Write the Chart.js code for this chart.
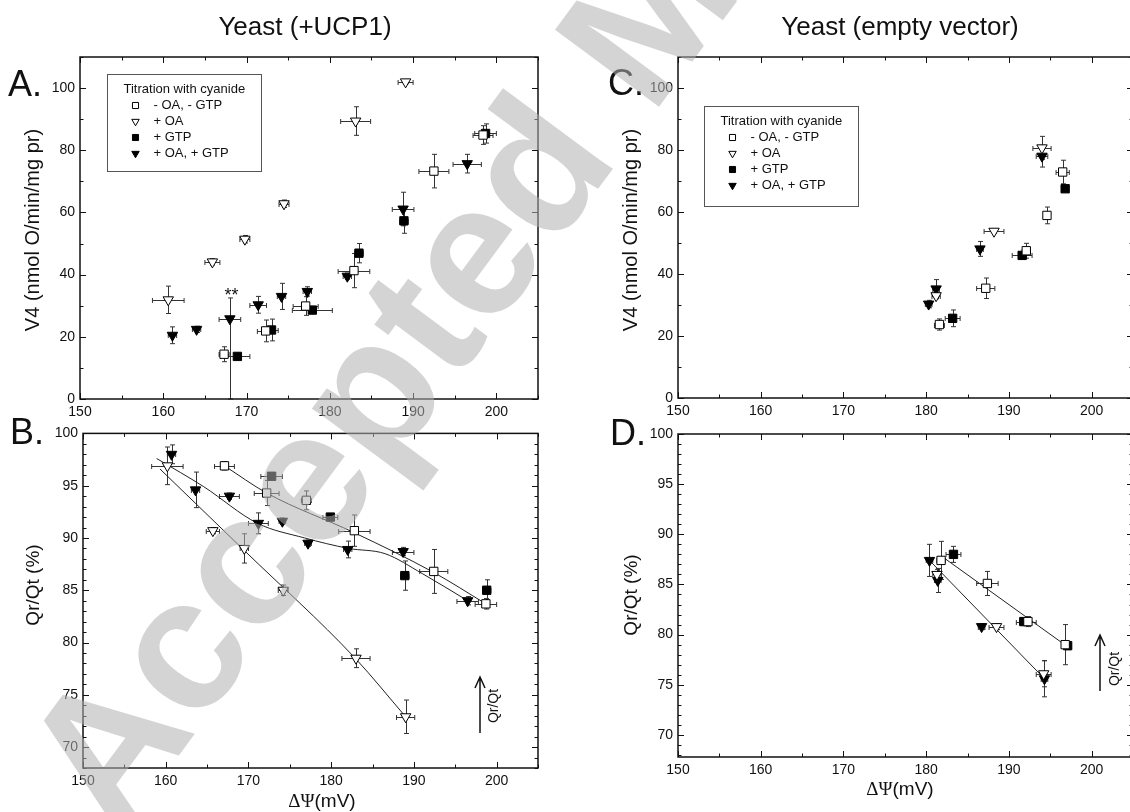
<!DOCTYPE html>
<html>
<head>
<meta charset="utf-8">
<script src="https://cdn.jsdelivr.net/npm/chart.js@4.4.0/dist/chart.umd.min.js"></script>
<style>
html, body { margin:0; padding:0; background:#fff; width:1130px; height:812px; overflow:hidden; position:relative; }
canvas { position:absolute; }
svg { position:absolute; left:0; top:0; pointer-events:none; }
</style>
</head>
<body>
<canvas id="cA" style="left:0;top:30px;width:560px;height:400px" width="560" height="400"></canvas>
<canvas id="cB" style="left:0;top:420px;width:560px;height:392px" width="560" height="392"></canvas>
<canvas id="cC" style="left:570px;top:30px;width:570px;height:400px" width="570" height="400"></canvas>
<canvas id="cD" style="left:570px;top:420px;width:570px;height:392px" width="570" height="392"></canvas>

<svg width="1130" height="812" font-family="'Liberation Sans', Arial, sans-serif" fill="#111">
  <text x="305" y="35" font-size="26" text-anchor="middle">Yeast (+UCP1)</text>
  <text x="900" y="35" font-size="26" text-anchor="middle">Yeast (empty vector)</text>
  <text x="8" y="96" font-size="36">A.</text>
  <text x="10" y="444" font-size="36">B.</text>
  <text x="608" y="95" font-size="36">C.</text>
  <text x="610" y="445" font-size="36">D.</text>
  <text transform="translate(32,230) rotate(-90)" font-size="20" text-anchor="middle" dominant-baseline="central">V4 (nmol O/min/mg pr)</text>
  <text transform="translate(630,230) rotate(-90)" font-size="20" text-anchor="middle" dominant-baseline="central">V4 (nmol O/min/mg pr)</text>
  <text transform="translate(32,585) rotate(-90)" font-size="19" text-anchor="middle" dominant-baseline="central">Qr/Qt (%)</text>
  <text transform="translate(630,595) rotate(-90)" font-size="19" text-anchor="middle" dominant-baseline="central">Qr/Qt (%)</text>
  <text x="322" y="807" font-size="19" text-anchor="middle"><tspan font-family="'Liberation Serif', serif">ΔΨ</tspan>(mV)</text>
  <text x="900" y="795" font-size="19" text-anchor="middle"><tspan font-family="'Liberation Serif', serif">ΔΨ</tspan>(mV)</text>
  <g stroke="#111" stroke-width="1.5" fill="none">
    <path d="M480,733 L480,678 M475,688 L480,677 L485,688"/>
    <path d="M1100,691 L1100,636 M1095,646 L1100,635 L1105,646"/>
  </g>
  <text transform="translate(493,706) rotate(-90)" font-size="14" text-anchor="middle" dominant-baseline="central">Qr/Qt</text>
  <text transform="translate(1114,669) rotate(-90)" font-size="14" text-anchor="middle" dominant-baseline="central">Qr/Qt</text>
</svg>

<svg width="1130" height="812">
  <text x="117" y="839" transform="rotate(-53.5 117 839)" font-family="'Liberation Sans', Arial, sans-serif" font-weight="bold" font-size="188" fill="rgb(176,176,176)" fill-opacity="0.55">Accepted Manuscript</text>
</svg>

<script>
// axis ticks and labels
var xTicks = [150, 160, 170, 180, 190, 200];
var v4Ticks = [0, 20, 40, 60, 80, 100];
var qTicks = [70, 75, 80, 85, 90, 95, 100];
var legendTitle = 'Titration with cyanide';
var seriesNames = ['- OA, - GTP', '+ OA', '+ GTP', '+ OA, + GTP'];

// points: [dPsi mV, value, x error, y error (, lower y error)]
// panel A, V4, yeast +UCP1
var A_ctrl = [[167.3,14.4,0.6,2.4],[172.3,21.9,1.0,3.5],[177.1,29.9,1.5,3.0],[182.9,41.3,1.9,5.5],[192.5,73.3,1.8,5.4],[198.4,84.9,1.2,3.0]];
var A_oa   = [[160.6,31.9,1.9,4.4],[165.9,44.1,0.9,1.0],[169.8,51.4,0.6,1.2],[174.5,62.8,0.6,1.2],[183.1,89.4,1.8,4.6],[189.1,102.0,0.9,0.6]];
var A_gtp  = [[168.9,13.7,1.5,1.0],[173.0,22.2,0.8,3.5],[177.9,28.6,2.4,1.0],[183.5,46.9,0.5,3.1],[188.9,57.3,0.5,4.0],[198.7,85.4,1.3,3.1]];
var A_both = [[161.1,20.5,0.5,2.7],[164.0,22.4,0.5,1.0],[168.0,25.8,1.3,6.7,25.8],[171.4,30.3,1.0,2.7],[174.2,33.0,0.5,4.2],[177.3,34.6,0.5,1.5],[182.1,39.5,0.5,1.0],[188.8,61.1,1.3,5.4],[196.5,75.7,1.7,3.0]];
var A_notes = [{x: 168.2, y: 31.4, text: '**'}];

// panel B, Qr/Qt, yeast +UCP1
var B_ctrl = [[167.1,96.9,1.2,0.4],[172.2,94.3,1.5,1.2],[177.0,93.6,0.6,0.9],[182.8,90.7,1.9,1.5],[192.4,86.8,1.7,2.1],[198.7,83.7,1.3,0.5]];
var B_oa   = [[160.2,96.9,1.9,1.8],[165.7,90.7,0.8,0.3],[169.5,89.0,0.5,1.4],[174.2,85.0,0.6,0.5],[183.0,78.5,1.7,0.9],[189.0,72.9,1.1,1.6]];
var B_gtp  = [[172.8,95.9,1.3,0.3],[179.9,92.0,0.9,0.3],[188.9,86.4,0.5,1.4],[198.8,85.0,0.5,1.0]];
var B_both = [[160.7,98.0,0.5,0.9],[163.6,94.6,0.5,1.7],[167.7,94.0,1.2,0.3],[171.2,91.4,1.2,1.0],[174.1,91.6,0.4,0.3],[177.2,89.5,0.4,0.3],[182.0,88.9,0.5,0.8],[188.7,88.7,1.3,0.4],[196.5,84.0,1.3,0.4]];
var B_fitCtrl = [[167.1,96.9],[172.2,94.3],[182.8,90.5],[192.4,86.7],[198.7,83.7]];
var B_fitOa   = [[159.3,96.6],[169.5,88.8],[182.9,78.5],[189.0,72.9]];
var B_fitBoth = [[158.9,97.6],[164.6,94.9],[171.1,91.4],[176.8,90.0],[182.1,89.0],[186.5,88.5],[191.0,86.6],[196.5,84.0]];

// panel C, V4, empty vector
var C_ctrl = [[181.6,23.7,0.6,1.8],[187.2,35.4,1.1,3.3],[192.1,47.5,0.5,2.4],[194.6,58.9,0.4,2.7],[196.5,72.9,0.8,3.8]];
var C_oa   = [[181.2,33.0,0.5,1.0],[188.2,53.8,1.2,0.6],[194.0,80.7,1.1,3.7]];
var C_gtp  = [[183.2,25.7,0.9,2.7],[191.6,46.0,1.2,1.2],[196.8,67.5,0.4,0.6]];
var C_both = [[180.3,30.3,0.4,1.2],[181.2,35.2,0.4,3.0],[186.5,48.1,0.4,2.4],[194.0,78.0,0.7,3.5]];

// panel D, Qr/Qt, empty vector
var D_ctrl = [[181.8,87.4,0.5,1.9],[187.4,85.1,1.3,1.2],[192.3,81.3,1.0,0.5],[196.8,79.0,0.4,2.0]];
var D_oa   = [[181.3,86.0,0.5,0.5],[188.5,80.8,0.9,0.3],[194.2,76.1,0.9,1.3]];
var D_gtp  = [[183.3,88.0,0.9,0.8],[191.8,81.3,0.9,0.4],[197.1,78.9,0.4,0.4]];
var D_both = [[180.4,87.4,0.4,1.6],[181.4,85.4,0.4,1.2],[186.7,80.8,0.4,0.3],[194.3,75.6,0.4,1.8]];
var D_fitCtrl = [[181.9,87.8],[196.9,78.9]];
var D_fitBoth = [[180.4,87.4],[194.3,75.6]];

Chart.defaults.font.family = "'Liberation Sans', Arial, sans-serif";
Chart.defaults.color = '#111';

var styles = [
  {pointStyle: 'rect', rot: 0, fill: '#fff', r: 5.9},
  {pointStyle: 'triangle', rot: 180, fill: '#fff', r: 6},
  {pointStyle: 'rect', rot: 0, fill: '#000', r: 5.9},
  {pointStyle: 'triangle', rot: 180, fill: '#000', r: 6}
];

function pts(arr) {
  return arr.map(function(p) { return {x: p[0], y: p[1]}; });
}

function markers(arr, k) {
  var s = styles[k];
  return {
    type: 'scatter', data: pts(arr), errs: arr, legendLabel: seriesNames[k],
    pointStyle: s.pointStyle, pointRotation: s.rot, pointRadius: s.r,
    pointBackgroundColor: s.fill, pointBorderColor: '#000', pointBorderWidth: 1,
    showLine: false, order: 0
  };
}

function fitLine(arr) {
  return {
    type: 'line', data: pts(arr), borderColor: '#222', borderWidth: 1,
    pointRadius: 0, tension: 0.35, cubicInterpolationMode: 'monotone', fill: false, order: 2
  };
}

var errPlugin = {
  id: 'errbars',
  beforeDatasetsDraw: function(chart) {
    var ctx = chart.ctx, x = chart.scales.x, y = chart.scales.y;
    ctx.save();
    ctx.strokeStyle = '#333';
    ctx.lineWidth = 1;
    chart.data.datasets.forEach(function(ds) {
      if (!ds.errs) return;
      ds.errs.forEach(function(p) {
        var down = p.length > 4 ? p[4] : p[3];
        var px = Math.round(x.getPixelForValue(p[0])) + 0.5;
        var py = Math.round(y.getPixelForValue(p[1])) + 0.5;
        var x0 = x.getPixelForValue(p[0] - p[2]), x1 = x.getPixelForValue(p[0] + p[2]);
        var y0 = y.getPixelForValue(p[1] + p[3]), y1 = y.getPixelForValue(p[1] - down);
        ctx.beginPath();
        ctx.moveTo(x0, py); ctx.lineTo(x1, py);
        ctx.moveTo(x0, py - 2.5); ctx.lineTo(x0, py + 2.5);
        ctx.moveTo(x1, py - 2.5); ctx.lineTo(x1, py + 2.5);
        ctx.moveTo(px, y0); ctx.lineTo(px, y1);
        ctx.moveTo(px - 2.5, y0); ctx.lineTo(px + 2.5, y0);
        ctx.moveTo(px - 2.5, y1); ctx.lineTo(px + 2.5, y1);
        ctx.stroke();
      });
    });
    ctx.restore();
  }
};

function isMajor(v, step) {
  return Math.abs(v / step - Math.round(v / step)) < 1e-6;
}

var framePlugin = {
  id: 'frame',
  afterDatasetsDraw: function(chart, args, o) {
    var ctx = chart.ctx, a = chart.chartArea, x = chart.scales.x, y = chart.scales.y;
    ctx.save();
    ctx.strokeStyle = '#111';
    ctx.lineWidth = 1;
    ctx.beginPath();
    var v, len, p;
    for (v = Math.ceil(x.min / o.xMinor) * o.xMinor; v <= x.max + 1e-6; v += o.xMinor) {
      len = isMajor(v, o.xMajor) ? 6 : 3.5;
      p = Math.round(x.getPixelForValue(v)) + 0.5;
      ctx.moveTo(p, a.bottom); ctx.lineTo(p, a.bottom - len);
      ctx.moveTo(p, a.top); ctx.lineTo(p, a.top + len);
    }
    for (v = Math.ceil(y.min / o.yMinor) * o.yMinor; v <= y.max + 1e-6; v += o.yMinor) {
      len = isMajor(v, o.yMajor) ? 6 : 3.5;
      p = Math.round(y.getPixelForValue(v)) + 0.5;
      ctx.moveTo(a.left, p); ctx.lineTo(a.left + len, p);
      ctx.moveTo(a.right, p); ctx.lineTo(a.right - len, p);
    }
    ctx.stroke();
    ctx.lineWidth = 1.5;
    ctx.strokeRect(a.left, a.top, a.right - a.left, a.bottom - a.top);
    ctx.restore();
  }
};

var legendPlugin = {
  id: 'boxLegend',
  afterDatasetsDraw: function(chart, args, o) {
    if (!o.show) return;
    var ctx = chart.ctx, a = chart.chartArea;
    var L = Math.round(a.left + o.dx) + 0.5, T = Math.round(a.top + o.dy) + 0.5;
    ctx.save();
    ctx.fillStyle = '#fff';
    ctx.fillRect(L, T, o.w, o.h);
    ctx.strokeStyle = '#555';
    ctx.lineWidth = 1;
    ctx.strokeRect(L, T, o.w, o.h);
    ctx.font = "13px 'Liberation Sans', Arial, sans-serif";
    ctx.textBaseline = 'middle';
    ctx.fillStyle = '#111';
    ctx.fillText(legendTitle, L + 16, T + 15);
    chart.data.datasets.filter(function(d) { return d.legendLabel; }).forEach(function(d, i) {
      var yy = T + 31 + i * 16;
      ctx.fillStyle = d.pointBackgroundColor;
      ctx.strokeStyle = '#000';
      ctx.lineWidth = 1;
      Chart.helpers.drawPoint(ctx, {pointStyle: d.pointStyle, rotation: d.pointRotation, radius: 4.3, borderWidth: 1}, L + 28, yy);
      ctx.fillStyle = '#111';
      ctx.fillText(d.legendLabel, L + 46, yy);
    });
    ctx.restore();
  }
};

var notePlugin = {
  id: 'notes',
  afterDatasetsDraw: function(chart, args, o) {
    if (!o.items) return;
    var ctx = chart.ctx;
    ctx.save();
    ctx.font = "18px 'Liberation Sans', Arial, sans-serif";
    ctx.textAlign = 'center';
    ctx.textBaseline = 'alphabetic';
    ctx.fillStyle = '#111';
    o.items.forEach(function(n) {
      ctx.fillText(n.text, chart.scales.x.getPixelForValue(n.x), chart.scales.y.getPixelForValue(n.y));
    });
    ctx.restore();
  }
};

function panel(id, cfg) {
  var datasets = cfg.fits.map(fitLine).concat([
    markers(cfg.sets[0], 0), markers(cfg.sets[1], 1), markers(cfg.sets[2], 2), markers(cfg.sets[3], 3)
  ]);
  return new Chart(document.getElementById(id), {
    type: 'scatter',
    data: {datasets: datasets},
    options: {
      responsive: false,
      animation: false,
      devicePixelRatio: 1,
      layout: {padding: cfg.pad},
      scales: {
        x: {
          type: 'linear', min: 150, max: 205,
          grid: {display: false, drawTicks: false}, border: {display: false},
          ticks: {font: {size: 14}, padding: 5, color: '#111'},
          afterBuildTicks: function(s) { s.ticks = xTicks.map(function(v) { return {value: v}; }); },
          afterFit: function(s) { s.height = cfg.xH; }
        },
        y: {
          type: 'linear', min: cfg.yMin, max: cfg.yMax,
          grid: {display: false, drawTicks: false}, border: {display: false},
          ticks: {font: {size: 14}, padding: 5, color: '#111'},
          afterBuildTicks: function(s) { s.ticks = cfg.yTicks.map(function(v) { return {value: v}; }); },
          afterFit: function(s) { s.width = 50; }
        }
      },
      plugins: {
        legend: {display: false},
        tooltip: {enabled: false},
        frame: {xMinor: 5, xMajor: 10, yMinor: cfg.yMinor, yMajor: cfg.yMajor},
        boxLegend: cfg.legend || {show: false},
        notes: {items: cfg.notes}
      }
    },
    plugins: [errPlugin, framePlugin, legendPlugin, notePlugin]
  });
}

panel('cA', {
  pad: {left: 30, top: 27, right: 22, bottom: 6}, xH: 25,
  yMin: 0, yMax: 110, yTicks: v4Ticks, yMinor: 10, yMajor: 20,
  sets: [A_ctrl, A_oa, A_gtp, A_both], fits: [], notes: A_notes,
  legend: {show: true, dx: 27, dy: 17, w: 154, h: 97}
});
panel('cB', {
  pad: {left: 33, top: 13, right: 22, bottom: 14}, xH: 30,
  yMin: 68, yMax: 100, yTicks: qTicks, yMinor: 1, yMajor: 5,
  sets: [B_ctrl, B_oa, B_gtp, B_both], fits: [B_fitCtrl, B_fitOa, B_fitBoth]
});
panel('cC', {
  pad: {left: 58, top: 27, right: 5, bottom: 7}, xH: 25,
  yMin: 0, yMax: 110, yTicks: v4Ticks, yMinor: 10, yMajor: 20,
  sets: [C_ctrl, C_oa, C_gtp, C_both], fits: [],
  legend: {show: true, dx: 26, dy: 49, w: 154, h: 100}
});
panel('cD', {
  pad: {left: 58, top: 14, right: 5, bottom: 25}, xH: 30,
  yMin: 67.8, yMax: 100, yTicks: qTicks, yMinor: 1, yMajor: 5,
  sets: [D_ctrl, D_oa, D_gtp, D_both], fits: [D_fitCtrl, D_fitBoth]
});
</script>
</body>
</html>
